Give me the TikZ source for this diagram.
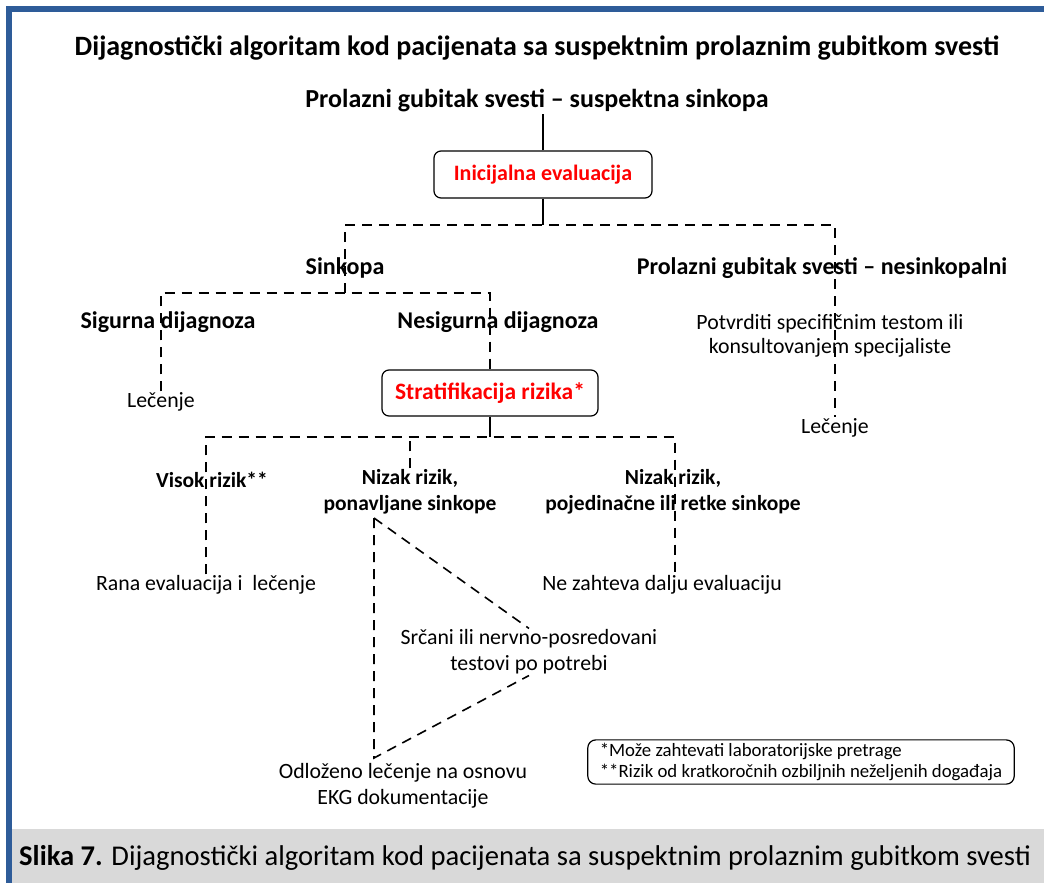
\documentclass[tikz,border=0pt]{standalone}
\usepackage{fontspec}
\setmainfont{Carlito}
\usetikzlibrary{positioning}
\definecolor{frameblue}{RGB}{46,92,153}
\definecolor{capgray}{RGB}{217,217,217}
\definecolor{boxred}{RGB}{255,0,0}

\tikzset{
  hdr/.style={font=\fontsize{24}{26}\selectfont\bfseries, align=center, inner sep=1pt},
  hdrsm/.style={font=\fontsize{21.5}{26}\selectfont\bfseries, align=center, inner sep=1pt},
  txt/.style={font=\fontsize{21.8}{26}\selectfont, align=center, inner sep=1pt},
  redbox/.style={draw, rounded corners=7pt, line width=1.2pt, text=boxred,
    font=\fontsize{22}{24}\selectfont\bfseries},
  link/.style={line width=1.6pt, dash pattern=on 10pt off 7pt},
  stem/.style={line width=1.4pt},
}

\begin{document}
\begin{tikzpicture}[x=1pt,y=-1pt]
\useasboundingbox (0,0) rectangle (1044,883);
% frame and caption band
\fill[capgray] (12,829) rectangle (1044,883);
\fill[frameblue] (6,6) rectangle (1044,12);
\fill[frameblue] (6,6) rectangle (12,883);

\node[font=\bfseries\fontsize{28}{30}\selectfont] (title) at (537,48)
  {Dijagnostički algoritam kod pacijenata sa suspektnim prolaznim gubitkom svesti};

% top of the tree
\node[font=\bfseries\fontsize{26}{28}\selectfont, inner sep=1pt] (tloc) at (537,101)
  {Prolazni gubitak svesti – suspektna sinkopa};
\node[redbox, minimum width=218pt, minimum height=47pt] (init) at (543,174.5) {Inicijalna evaluacija};
\coordinate (j1) at (543,225);

\node[hdr] (sink) at (345,268) {Sinkopa};
\node[hdr] (tlocn) at (822,268) {Prolazni gubitak svesti – nesinkopalni};
\node[txt, font=\fontsize{21.8}{24}\selectfont] (potvr) at (830,336) {Potvrditi specifičnim testom ili\\konsultovanjem specijaliste};
\node[txt] (lecR) at (835,428) {Lečenje};

\coordinate (j2) at (345,293);
\node[hdr] (sig) at (168,322) {Sigurna dijagnoza};
\node[hdr] (nesig) at (498,322) {Nesigurna dijagnoza};
\node[txt] (lecL) at (161,402) {Lečenje};
\node[redbox, minimum width=216pt, minimum height=46pt, font=\fontsize{23.5}{25}\selectfont\bfseries] (strat) at (490,393) {Stratifikacija rizika*};

% risk levels
\coordinate (j3) at (490,437);
\coordinate (j3r) at (675,437);
\node[hdrsm] (visok) at (212,480) {Visok rizik**};
\node[hdrsm] (nizakp) at (410,492) {Nizak rizik,\\ponavljane sinkope};
\node[hdrsm] (nizakr) at (673,492) {Nizak rizik,\\pojedinačne ili retke sinkope};
\node[txt] (rana) at (206,585) {Rana evaluacija i\ \ lečenje};
\node[txt] (nezaht) at (662,585) {Ne zahteva dalju evaluaciju};

\coordinate (apx) at (374,518);
\coordinate (base) at (374,758);
\node[txt] (srcani) at (529,652) {Srčani ili nervno-posredovani\\testovi po potrebi};
\node[txt] (odl) at (403,786) {Odloženo lečenje na osnovu\\EKG dokumentacije};

\node[draw, rounded corners=8pt, line width=1.2pt, align=left, inner xsep=12pt,
  minimum width=426pt, minimum height=44pt, font=\fontsize{18.8}{21}\selectfont] (note) at (801,762)
  {*Može zahtevati laboratorijske pretrage\\\mbox{}**Rizik od kratkoročnih ozbiljnih neželjenih događaja};

% connectors
\draw[stem] (init.north) -- (init.north |- tloc.south);
\draw[stem] (init.south) -- (j1);
\draw[link] (j2) |- (j1) -| (lecR.north);
\draw[link] (lecL.north) |- (j2) -| (strat.north);
\draw[stem] (strat.south) -- (j3);
\draw[link] (rana.north) |- (j3) -| (nezaht.north -| j3r);
\draw[link] (nizakp.north) -- (nizakp.north |- j3);
\draw[link] (apx) -- (srcani.north);
\draw[link] (apx) -- (base) -- (srcani.south);

\node[anchor=west, font=\fontsize{28.6}{30}\selectfont, inner sep=0pt] (cap) at (19,858)
  {\textbf{Slika 7.} Dijagnostički algoritam kod pacijenata sa suspektnim prolaznim gubitkom svesti};
\end{tikzpicture}
\end{document}
